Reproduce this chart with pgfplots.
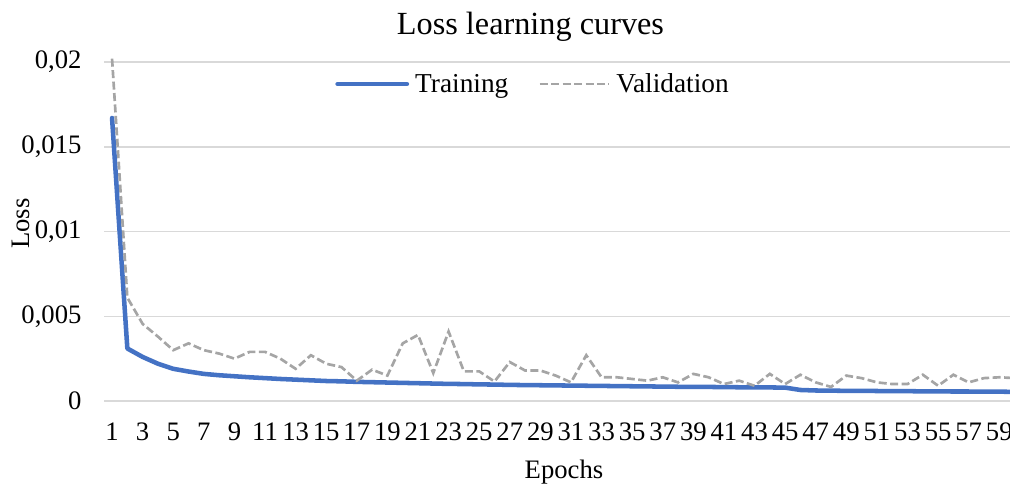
\documentclass[border=0pt]{standalone}
\usepackage{fontspec}
\setmainfont{Liberation Serif}
\usepackage{pgfplots}
\usepackage{pgfplotstable}
\pgfplotsset{compat=1.18}
\definecolor{trainblue}{HTML}{4472C4}
\definecolor{valgray}{HTML}{A5A5A5}
\definecolor{gridgray}{HTML}{D9D9D9}
\pgfplotstableread{
ep train val
1 0.0167 0.0202
2 0.0031 0.0061
3 0.0026 0.00455
4 0.0022 0.0038
5 0.0019 0.0030
6 0.00174 0.0034
7 0.0016 0.0030
8 0.00152 0.0028
9 0.00146 0.0025
10 0.0014 0.0029
11 0.00135 0.0029
12 0.0013 0.0025
13 0.00126 0.0019
14 0.00122 0.0027
15 0.00118 0.0022
16 0.00116 0.0020
17 0.00113 0.0012
18 0.00111 0.00185
19 0.00109 0.0015
20 0.00107 0.0034
21 0.00105 0.0039
22 0.00103 0.00165
23 0.00101 0.0041
24 0.00100 0.00175
25 0.00098 0.00175
26 0.00097 0.00115
27 0.00095 0.0023
28 0.00094 0.0018
29 0.00093 0.0018
30 0.00092 0.0015
31 0.00091 0.0011
32 0.00090 0.0027
33 0.00089 0.0014
34 0.00088 0.0014
35 0.00087 0.0013
36 0.00086 0.0012
37 0.00085 0.0014
38 0.00084 0.0011
39 0.00083 0.0016
40 0.00083 0.0014
41 0.00082 0.0010
42 0.00081 0.0012
43 0.00081 0.0009
44 0.00080 0.0016
45 0.00079 0.0010
46 0.00065 0.00155
47 0.00062 0.0011
48 0.00061 0.00083
49 0.00060 0.0015
50 0.00060 0.00135
51 0.00059 0.0011
52 0.00058 0.0010
53 0.00058 0.0010
54 0.00057 0.00155
55 0.00057 0.0009
56 0.00056 0.00155
57 0.00056 0.0011
58 0.00055 0.00135
59 0.00055 0.0014
60 0.00054 0.00135
}\losstable
\begin{document}
\begin{tikzpicture}
\useasboundingbox (0,0) rectangle (757.5pt,362.25pt);
\begin{axis}[
  at={(78.3pt,61.5pt)}, anchor=south west,
  scale only axis, width=679.2pt, height=258pt,
  xmin=0.5, xmax=59.7, ymin=0, ymax=0.0203,
  clip=false,
  axis line style={draw=none},
  major tick length=0pt,
  tick style={draw=none},
  xtick={1,3,...,59},
  ytick={0,0.005,0.01,0.015,0.02},
  yticklabels={0,{0,005},{0,01},{0,015},{0,02}},
  scaled y ticks=false,
  /pgf/number format/assume math mode=true,
  ymajorgrids,
  grid style={gridgray, line width=1.1pt},
  ticklabel style={font=\fontsize{20}{24}\selectfont},
  yticklabel style={anchor=east, inner sep=0pt, xshift=-17pt},
  xticklabel style={anchor=north, inner sep=0pt, yshift=-16.5pt},
  xlabel={Epochs},
  ylabel={Loss},
  label style={font=\fontsize{20}{24}\selectfont},
  xlabel style={at={(axis description cs:0.5075,-0.207)}, anchor=center},
  ylabel style={at={(axis description cs:-0.0925,0.516)}, anchor=center},
  title={Loss learning curves},
  title style={at={(axis description cs:0.4705,1.041)}, anchor=base, yshift=0pt, font=\fontsize{24.2}{28}\selectfont},
  legend columns=2,
  legend style={at={(axis description cs:0.4755,0.9215)}, anchor=center, draw=none, fill=none,
    font=\fontsize{20.5}{24}\selectfont,
    nodes={inner xsep=4.5pt},
    /tikz/every even column/.append style={column sep=18pt}},
  legend image code/.code={\draw[#1] (0pt,0pt) -- (52pt,0pt);},
]
\addplot[trainblue, line width=3.4pt, line cap=round, line join=round] table[x=ep, y=train] {\losstable};
\addlegendentry{Training}
\addplot[valgray, line width=2pt, dash pattern=on 6pt off 2.6pt] table[x=ep, y=val] {\losstable};
\addlegendentry{Validation}
\end{axis}
\end{tikzpicture}
\end{document}
